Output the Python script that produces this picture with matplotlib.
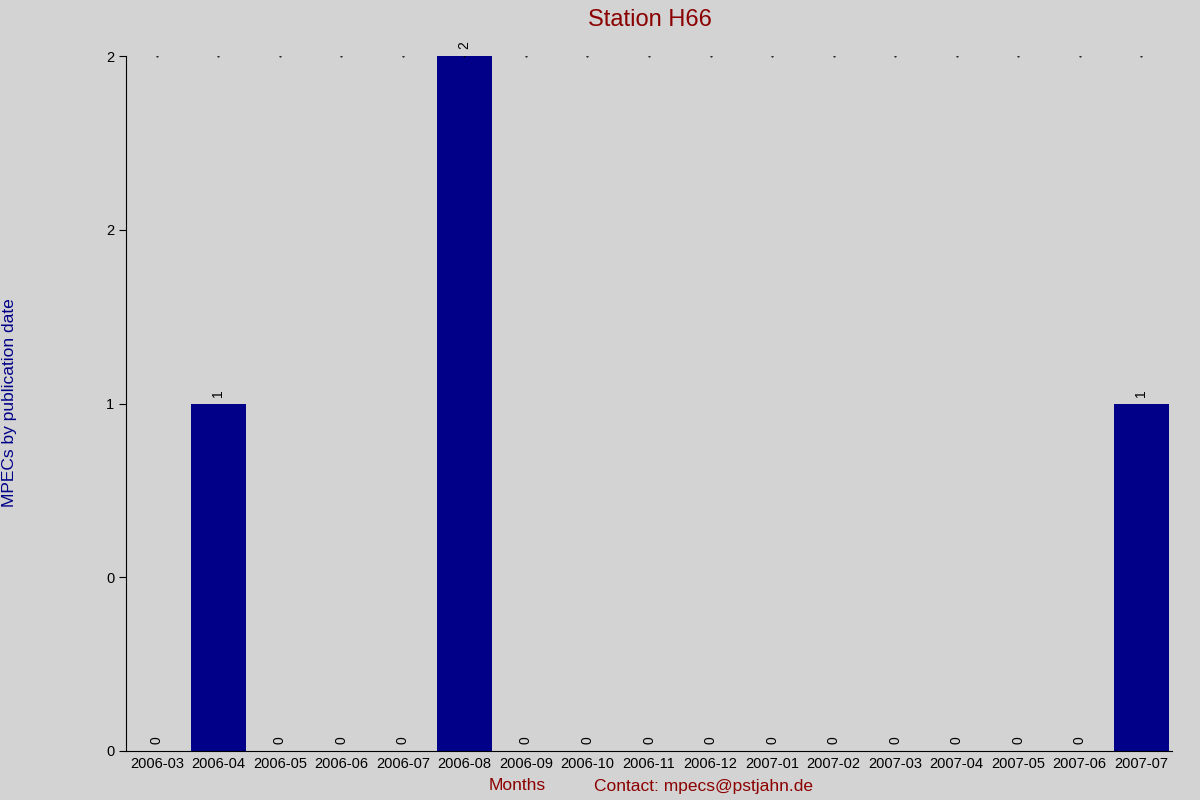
import matplotlib
matplotlib.use("Agg")
import matplotlib.pyplot as plt

months = ["2006-03","2006-04","2006-05","2006-06","2006-07","2006-08","2006-09","2006-10",
          "2006-11","2006-12","2007-01","2007-02","2007-03","2007-04","2007-05","2007-06","2007-07"]
counts = [0,1,0,0,0,2,0,0,0,0,0,0,0,0,0,0,1]
ytick_vals = [0, 0.5, 1, 1.5, 2]
ytick_labels = ["0", "0", "1", "2", "2"]

bg = "#d3d3d3"
fig = plt.figure(figsize=(12, 8), dpi=100, facecolor=bg)
ax = fig.add_axes([126/1200, 1-751/800, (1172-126)/1200, (751-56)/800])
ax.set_facecolor(bg)
x = list(range(len(months)))
ax.bar(x, counts, width=0.9, color="#000088")
for xi, c in zip(x, counts):
    ax.text(xi, c + 0.02, str(c), rotation=90, ha="center", va="bottom", fontsize=10, family="Liberation Sans")
    ax.plot(xi, 2, marker=".", markersize=1, color="black")
ax.set_xlim(-0.5, len(months) - 0.5)
ax.set_ylim(0, 2)
ax.set_xticks(x)
ax.set_xticklabels(months, fontsize=10.5, family="Liberation Sans")
ax.set_yticks(ytick_vals)
ax.set_yticklabels(ytick_labels, fontsize=10.5, family="Liberation Sans")
ax.tick_params(axis="x", length=0, pad=4)
ax.tick_params(axis="y", length=5, direction="out")
for s in ["top", "right"]:
    ax.spines[s].set_visible(False)
fig.text(0.5417, 0.975, "Station H66", ha="center", va="center", fontsize=17, color="#8b0000", family="Liberation Sans")
fig.text(517/1200, 1-786/800, "Months", ha="center", va="center", fontsize=12.5, color="#8b0000", family="Liberation Sans")
fig.text(704/1200, 1-786/800, "Contact: mpecs@pstjahn.de", ha="center", va="center", fontsize=12.5, color="#8b0000", family="Liberation Sans")
fig.text(10/1200, 1-403/800, "MPECs by publication date", rotation=90, ha="center", va="center", fontsize=12.5, color="#000088", family="Liberation Sans")
fig.savefig("out.png", dpi=100, facecolor=bg)
